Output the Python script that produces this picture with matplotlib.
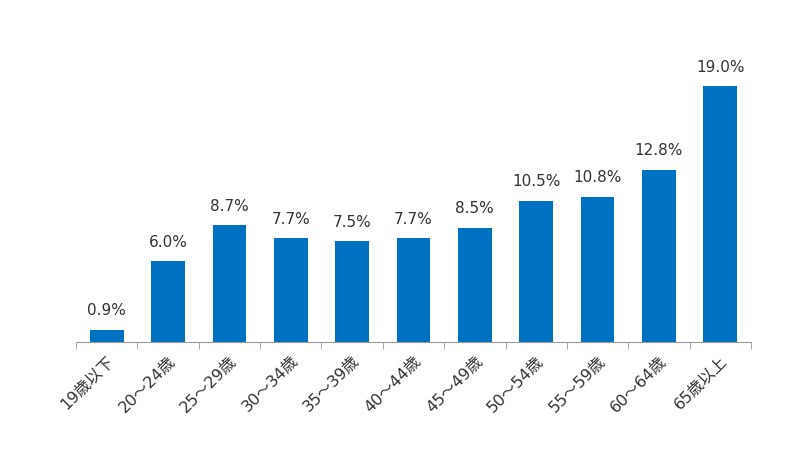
import matplotlib
matplotlib.use("Agg")
import matplotlib.pyplot as plt
import numpy as np

plt.rcParams['font.family'] = ['DejaVu Sans', 'Noto Sans CJK JP']

categories = ["19歳以下", "20～24歳", "25～29歳", "30～34歳", "35～39歳", "40～44歳",
              "45～49歳", "50～54歳", "55～59歳", "60～64歳", "65歳以上"]
values = [0.9, 6.0, 8.7, 7.7, 7.5, 7.7, 8.5, 10.5, 10.8, 12.8, 19.0]

fig = plt.figure(figsize=(8.0, 4.67), dpi=100)
ax = fig.add_axes([76 / 800, 125 / 467, 675 / 800, 296 / 467])

x = np.arange(len(categories))
ax.bar(x, values, width=0.55, color="#0070C0")
for xi, v in zip(x, values):
    ax.text(xi, v + 0.85, f"{v:.1f}%", ha="center", va="bottom", fontsize=11, color="#333333")

ax.set_xlim(-0.5, len(categories) - 0.5)
ax.set_ylim(0, 22)
for s in ["top", "right", "left"]:
    ax.spines[s].set_visible(False)
ax.spines["bottom"].set_color("#999999")
ax.set_yticks([])

ax.set_xticks(np.arange(len(categories) + 1) - 0.5, minor=True)
ax.tick_params(axis="x", which="minor", length=5, color="#999999")
ax.set_xticks(x)
ax.set_xticklabels(categories, rotation=45, ha="right", rotation_mode="anchor",
                   fontsize=11.5, color="#333333")
ax.tick_params(axis="x", which="major", length=0, pad=8)

fig.savefig("out.png", dpi=100)
